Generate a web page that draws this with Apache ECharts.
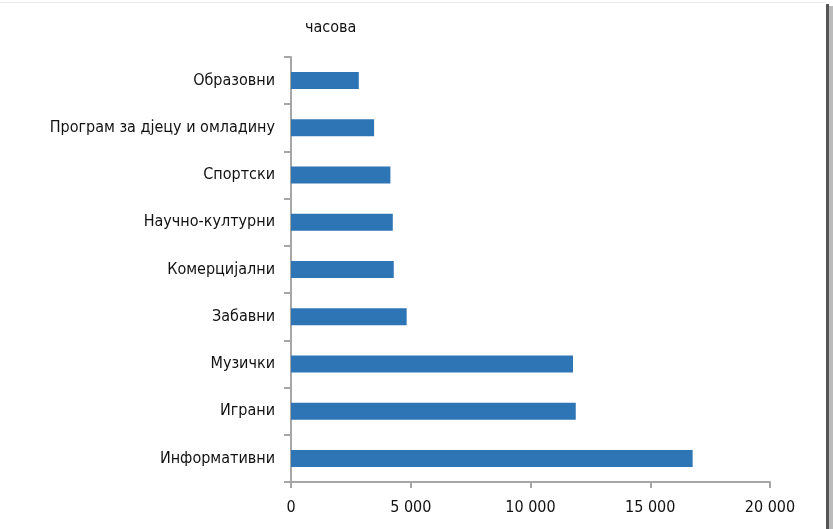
<!DOCTYPE html>
<html>
<head>
<meta charset="utf-8">
<script src="https://cdn.jsdelivr.net/npm/echarts@6/dist/echarts.min.js"></script>
<style>
html,body{margin:0;padding:0;background:#fff;}
#chart{width:833px;height:529px;}
</style>
</head>
<body>
<div id="chart"></div>
<script>
var categories = ['Информативни','Играни','Музички','Забавни','Комерцијални','Научно-културни','Спортски','Програм за дјецу и омладину','Образовни'];
var values = [16770, 11890, 11775, 4830, 4290, 4250, 4150, 3470, 2830];
var unitLabel = 'часова';
var xTicks = {min: 0, max: 20000, interval: 5000};

var FONT = '"Liberation Sans Narrow", "DejaVu Sans Condensed", "Roboto", sans-serif';
var chart = echarts.init(document.getElementById('chart'), null, {renderer: 'canvas'});
chart.setOption({
  animation: false,
  backgroundColor: '#ffffff',
  grid: {left: 291, right: 63, top: 57, bottom: 47, containLabel: false},
  xAxis: {
    type: 'value',
    min: xTicks.min, max: xTicks.max, interval: xTicks.interval,
    axisLine: {show: true, lineStyle: {color: '#a6a6a6', width: 2}},
    axisTick: {show: true, length: 6, lineStyle: {color: '#a6a6a6', width: 2}},
    splitLine: {show: false},
    axisLabel: {
      margin: 18, color: '#111', fontFamily: FONT, fontSize: 16,
      formatter: function (v) { return String(v).replace(/\B(?=(\d{3})+(?!\d))/g, ' '); }
    }
  },
  yAxis: {
    type: 'category',
    data: categories,
    axisLine: {show: true, lineStyle: {color: '#a6a6a6', width: 2}},
    axisTick: {show: true, length: 7, lineStyle: {color: '#a6a6a6', width: 2}},
    axisLabel: {margin: 16, color: '#111', fontFamily: FONT, fontSize: 16},
    splitLine: {show: false}
  },
  series: [{
    type: 'bar',
    data: values,
    barWidth: 17,
    itemStyle: {color: '#2E75B6'}
  }],
  graphic: [
    {type: 'text', left: 305, top: 20, style: {text: unitLabel, fill: '#111', font: '16px ' + FONT}},
    {type: 'rect', shape: {x: 826, y: 4, width: 3, height: 525}, style: {fill: '#555'}},
    {type: 'rect', shape: {x: 829, y: 6, width: 4, height: 523}, style: {fill: '#bbb'}},
    {type: 'rect', shape: {x: 0, y: 2, width: 826, height: 1}, style: {fill: '#e8e8e8'}}
  ]
});
</script>
</body>
</html>
